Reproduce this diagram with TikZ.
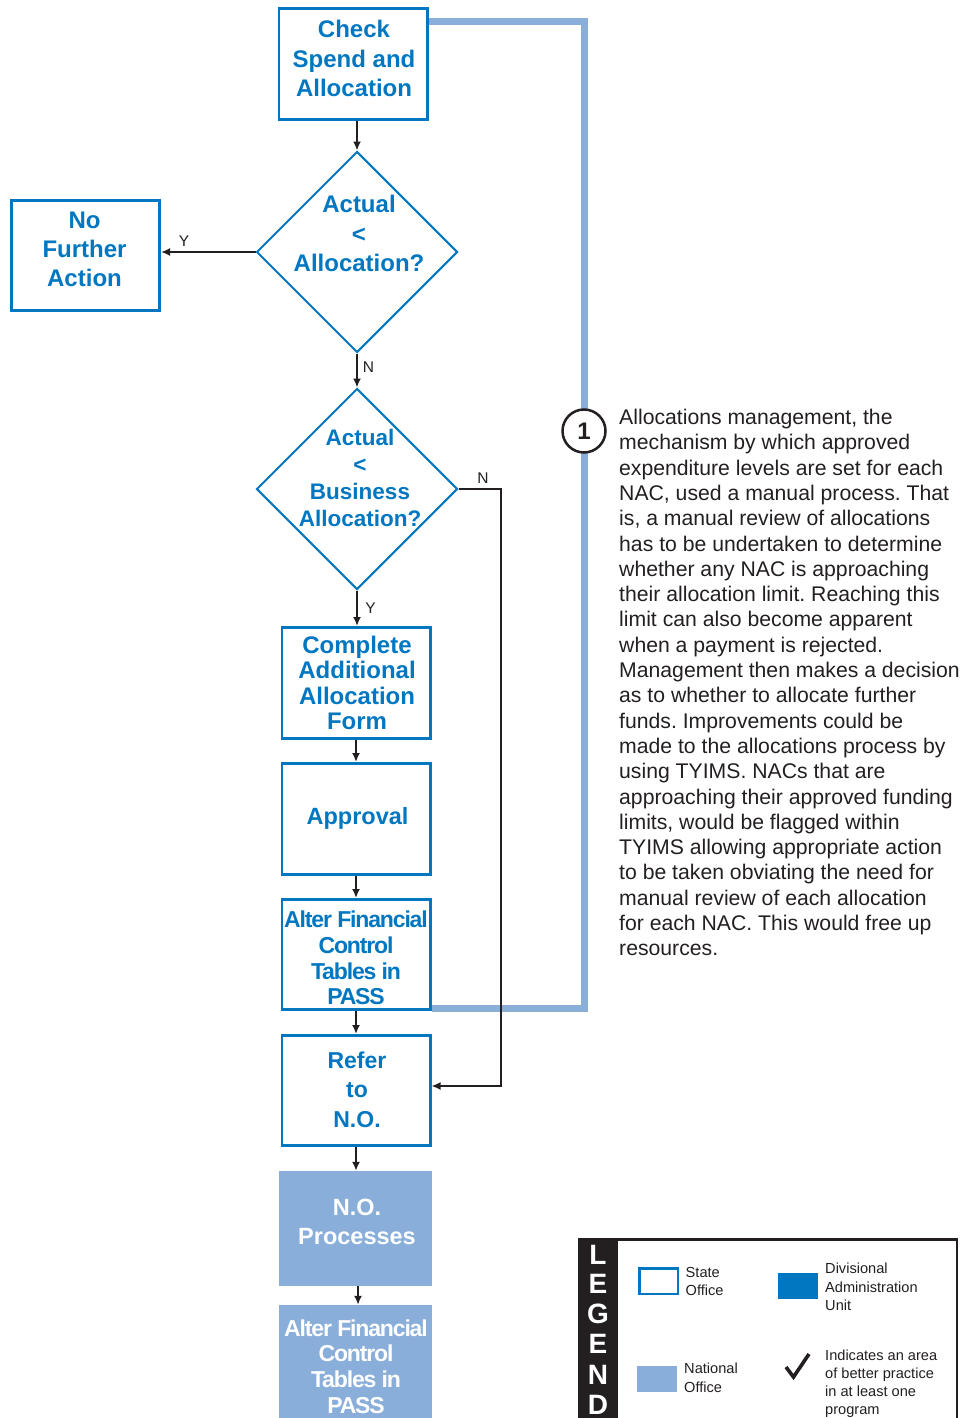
\documentclass[tikz,border=0pt]{standalone}
\usepackage{fontspec}
\setmainfont{Liberation Sans}
\newfontfamily\tightsans{Liberation Sans}[LetterSpace=-5]
\usetikzlibrary{arrows.meta,shapes.geometric}
\definecolor{sblue}{HTML}{0077C0}
\definecolor{nblue}{HTML}{89AEDA}
\definecolor{ink}{HTML}{231F20}
\frenchspacing
\begin{document}
\begin{tikzpicture}[x=1pt,y=-1pt,
  sbox/.style={draw=sblue,line width=2.8pt,inner sep=0pt,minimum width=148.2pt,minimum height=110.2pt},
  nbox/.style={fill=nblue,inner sep=0pt,minimum width=153pt},
  decide/.style={diamond,draw=sblue,line width=2pt,inner sep=0pt,minimum width=201pt,minimum height=201pt},
  stxt/.style={text=sblue,align=center,inner sep=0pt},
  ntxt/.style={text=white,align=center,inner sep=0pt},
  btxt/.style={font=\bfseries\fontsize{24}{#1}\selectfont},
  ctxt/.style={font=\tightsans\bfseries\fontsize{23}{#1}\selectfont},
  flow/.style={draw=ink,line width=2.5pt,-{Latex[length=9pt,width=8pt]}},
  yn/.style={text=ink,font=\fontsize{15.5}{17}\selectfont,inner sep=0pt},
  natline/.style={draw=nblue,line width=7pt},
  legtxt/.style={text=ink,align=left,anchor=north west,inner sep=0pt,font=\fontsize{14.6}{18.3}\selectfont},
  legl/.style={text=white,anchor=base,inner sep=0pt,font=\bfseries\fontsize{28}{28}\selectfont},
]
\useasboundingbox (0,0) rectangle (964,1418);

% ---- flow boxes ----
\node[sbox,minimum height=111.2pt] (check) at (353,64) {};
\node[sbox] (nfa) at (85.5,255.5) {};
\node[decide] (d1) at (357,252) {};
\node[decide] (d2) at (357,489) {};
\node[sbox,minimum height=111.2pt] (comp) at (356,683) {};
\node[sbox,minimum height=111.2pt] (appr) at (356,819) {};
\node[sbox] (alter) at (356,954.5) {};
\node[sbox] (refer) at (356,1090.5) {};
\node[nbox,minimum height=115pt] (nop) at (355.5,1228.5) {};
\node[nbox,minimum height=113pt] (alno) at (355.5,1361.5) {};

% ---- box texts ----
\node[stxt,btxt=29.5] (checkT) at (354,58.5) {Check\\Spend and\\Allocation};
\node[stxt,btxt=29] (nfaT) at (84.5,249) {No\\Further\\Action};
\node[stxt,btxt=29.5] (d1T) at (359,233.5) {Actual\\<\\Allocation?};
\node[stxt,font=\bfseries\fontsize{22.5}{26.7}\selectfont] (d2T) at (360,478) {Actual\\<\\Business\\Allocation?};
\node[stxt,btxt=25.3] (compT) at (357,683) {Complete\\Additional\\Allocation\\Form};
\node[stxt,font=\bfseries\fontsize{23.5}{28}\selectfont] (apprT) at (357.5,818.5) {Approval};
\node[stxt,ctxt=25.8] (alterT) at (356,958) {Alter Financial\\Control\\Tables in\\PASS};
\node[stxt,font=\bfseries\fontsize{23}{29.5}\selectfont] (referT) at (357,1089.5) {Refer\\to\\N.O.};
\node[ntxt,font=\bfseries\fontsize{23.5}{29}\selectfont] (nopT) at (357,1221.5) {N.O.\\Processes};
\node[ntxt,ctxt=25.7] (alnoT) at (356,1366.5) {Alter Financial\\Control\\Tables in\\PASS};

% ---- national office review line ----
\coordinate (ntop) at (584,22);
\coordinate (nbot) at (584,1008.5);
\draw[natline] (check.east |- ntop) -- (ntop) -- (nbot) -- (alter.east |- nbot);
\node[circle,draw=ink,fill=white,line width=2.5pt,minimum size=43pt,inner sep=0pt,
      text=ink,font=\bfseries\fontsize{24}{24}\selectfont] (one) at (584,431) {1};

% ---- connectors ----
\draw[flow] (check.south -| d1.north) -- (d1.north);
\draw[flow] (d1.west) -- (d1.west -| nfa.east);
\draw[flow] (d1.south) -- (d2.north);
\draw[flow] (d2.south) -- (comp.north -| d2.south);
\draw[flow] (comp.south) -- (appr.north);
\draw[flow] (appr.south) -- (alter.north);
\draw[flow] (alter.south) -- (refer.north);
\draw[flow] (refer.south) -- (refer.south |- nop.north);
\draw[flow] ([xshift=2.5pt]nop.south) -- ([xshift=2.5pt]alno.north);
\coordinate (nturn) at (501,489);
\draw[flow] (d2.east) -- (nturn) |- ([yshift=4.5pt]refer.east);

\node[yn] (lY1) at (184,241) {Y};
\node[yn] (lN1) at (368.5,367) {N};
\node[yn] (lN2) at (483,478) {N};
\node[yn] (lY2) at (370.5,608) {Y};

% ---- note ----
\node[text=ink,align=left,anchor=north west,inner sep=0pt,font=\fontsize{21.2}{25.3}\selectfont] (para) at (619,409)
{Allocations management, the\\
mechanism by which approved\\
expenditure levels are set for each\\
NAC, used a manual process. That\\
is, a manual review of allocations\\
has to be undertaken to determine\\
whether any NAC is approaching\\
their allocation limit. Reaching this\\
limit can also become apparent\\
when a payment is rejected.\\
Management then makes a decision\\
as to whether to allocate further\\
funds. Improvements could be\\
made to the allocations process by\\
using TYIMS. NACs that are\\
approaching their approved funding\\
limits, would be flagged within\\
TYIMS allowing appropriate action\\
to be taken obviating the need for\\
manual review of each allocation\\
for each NAC. This would free up\\
resources.};

% ---- legend ----
\fill[ink] (578,1238) rectangle (618,1430);
\draw[ink,line width=2.5pt] (579.25,1239.25) rectangle (956.75,1430);
\node[legl] (lg1) at (598,1264) {L};
\node[legl] (lg2) at (598,1293) {E};
\node[legl] (lg3) at (598,1323) {G};
\node[legl] (lg4) at (598,1353) {E};
\node[legl] (lg5) at (598,1384) {N};
\node[legl] (lg6) at (598,1414) {D};

\draw[sblue,line width=2.5pt] (639.25,1268.25) rectangle (677.75,1293.75);
\node[legtxt] (lgState) at (685.5,1267) {State\\Office};
\fill[sblue] (778,1273) rectangle (818,1299);
\node[legtxt] (lgDiv) at (825,1263) {Divisional\\Administration\\Unit};
\fill[nblue] (637,1366) rectangle (677,1392);
\node[legtxt] (lgNat) at (684,1363) {National\\Office};
\draw[ink,line width=3.6pt,line join=miter] (786,1367) -- (793.5,1377) -- (809,1354);
\node[legtxt,font=\fontsize{14.6}{17.8}\selectfont] (lgTick) at (825,1350) {Indicates an area\\of better practice\\in at least one\\program};
\end{tikzpicture}
\end{document}
